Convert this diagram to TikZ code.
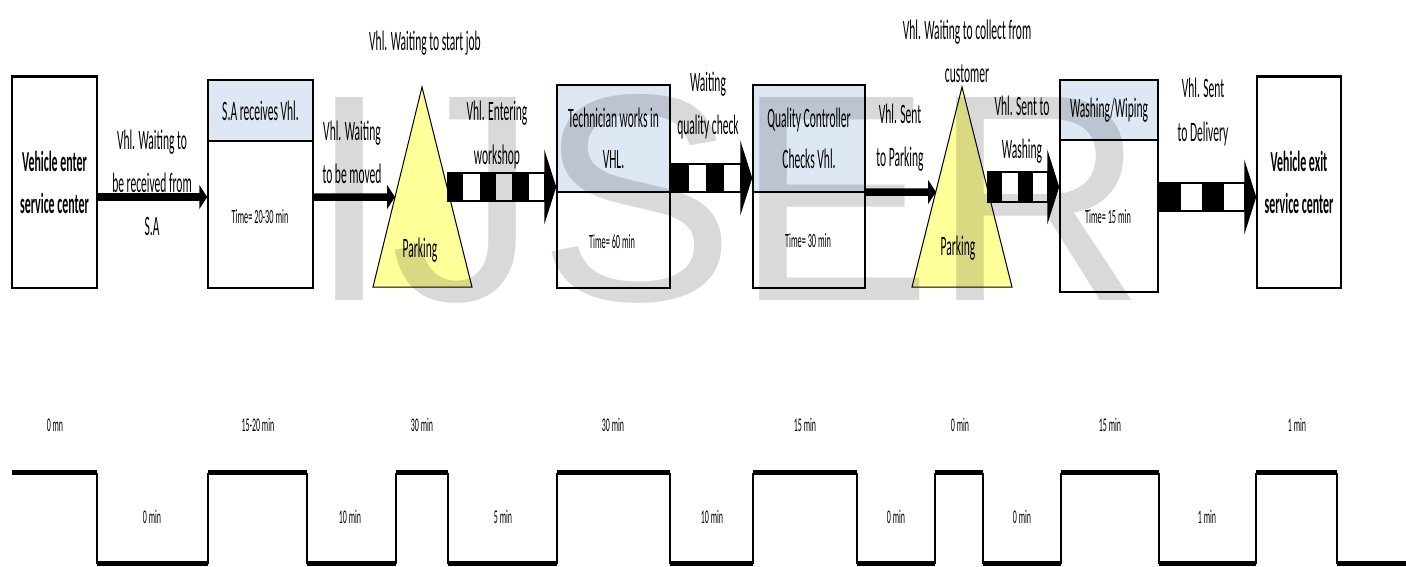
\documentclass[tikz,border=0pt]{standalone}
\usepackage{fontspec}
\setmainfont[FakeStretch=0.41]{Carlito}
\newfontfamily\markfont{Liberation Sans}
\usetikzlibrary{positioning,arrows.meta}
\definecolor{headblue}{RGB}{222,231,244}
\definecolor{parkyellow}{RGB}{255,255,153}

\begin{document}
\begin{tikzpicture} [
	x=0.2mm,y=-0.2mm,
	text centered,
	nbox/.style={
		rectangle,draw=black,line width=0.3mm,inner sep=0pt
	},
	nhead/.style={
		rectangle,draw=black,line width=0.3mm,fill=headblue,
		inner sep=1pt,align=center,font=\fontsize{16}{23}\selectfont
	},
	nend/.style={
		nbox,align=center,font=\bfseries\fontsize{16.5}{24}\selectfont
	},
	ntime/.style={font=\fontsize{11.5}{12}\selectfont,inner sep=1pt},
	nlabel/.style={align=center,font=\fontsize{16}{24.5}\selectfont,inner sep=1pt},
	nmin/.style={font=\fontsize{11}{12}\selectfont,inner sep=1pt},
	npark/.style={draw=black,line width=0.2mm,fill=parkyellow},
	nsolid/.style={line width=1.5mm,-{Triangle[length=1.6mm,width=4.8mm]}},
	nstripe/.style={line width=6mm,-{Triangle[length=2.4mm,width=15mm]}},
	nwhite/.style={white,line width=5.2mm,shorten >=2.4mm},
	nstep/.style={line width=0.4mm},
	nlevel/.style={line width=1mm}
]
\useasboundingbox (0,0) rectangle (1406,566);

% stages
\node [nend,minimum width=17mm,minimum height=42.2mm]	(enter) at (54.5,182.5)	{Vehicle enter\\service center};
\draw [line width=0.7mm] (enter.north west) -- (enter.north east);

\node [nbox,minimum width=21mm,minimum height=41.6mm]	(sa) at (260.5,184)	{};
\node [nhead,minimum width=21mm,minimum height=12.2mm,anchor=north]	(sahead) at (sa.north)	{S.A receives Vhl.};
\node [ntime]	(satime) at (260,217)	{Time= 20-30 min};

\node [nbox,minimum width=22.6mm,minimum height=40.6mm]	(tech) at (613.5,186.5)	{};
\node [nhead,minimum width=22.6mm,minimum height=21.4mm,anchor=north]	(techhead) at (tech.north)	{Technician works in\\VHL.};
\node [ntime]	(techtime) at (612,242)	{Time= 60 min};

\node [nbox,minimum width=22.4mm,minimum height=40.6mm]	(qc) at (809,186.5)	{};
\node [nhead,minimum width=22.4mm,minimum height=21.4mm,anchor=north]	(qchead) at (qc.north)	{Quality Controller\\Checks Vhl.};
\node [ntime]	(qctime) at (808,241)	{Time= 30 min};

\node [nbox,minimum width=19.6mm,minimum height=42.4mm]	(wash) at (1109,186)	{};
\node [nhead,minimum width=19.6mm,minimum height=12mm,anchor=north]	(washhead) at (wash.north)	{Washing/Wiping};
\node [ntime]	(washtime) at (1108,217)	{Time= 15 min};

\node [nend,minimum width=16.8mm,minimum height=42.2mm]	(exit) at (1299,182.5)	{Vehicle exit\\service center};
\draw [line width=0.7mm] (exit.north west) -- (exit.north east);

% parking
\draw [npark] (422,87) -- (472,287) -- (373,287) -- cycle;
\node [nlabel]	(park1) at (420,250)	{Parking};
\coordinate (p1in) at (395,197);
\coordinate (p1out) at (447,187);

\draw [npark] (962,87) -- (1012,287) -- (912,287) -- cycle;
\node [nlabel]	(park2) at (958,248)	{Parking};
\coordinate (p2in) at (936,192);
\coordinate (p2out) at (987,187);

% moves
\coordinate (a1) at ([yshift=-2.9mm]enter.east);
\draw [nsolid] (a1) -- (a1 -| sa.west);
\coordinate (a2) at ([yshift=-2.6mm]sa.east);
\draw [nsolid] (a2) -- (p1in);
\draw [nstripe] (p1out) -- (p1out -| tech.west);
\draw [nwhite,dash pattern=on 3.27mm off 3.27mm,dash phase=3.27mm] (p1out) -- (p1out -| tech.west);
\coordinate (a4) at ([yshift=1.7mm]tech.east);
\draw [nstripe] (a4) -- (a4 -| qc.west);
\draw [nwhite,dash pattern=on 3.55mm off 3.55mm,dash phase=3.55mm] (a4) -- (a4 -| qc.west);
\coordinate (a5) at ([yshift=-1.1mm]qc.east);
\draw [nsolid] (a5) -- (p2in);
\draw [nstripe,line width=6.4mm] (p2out) -- (p2out -| wash.west);
\draw [nwhite,line width=5.6mm,dash pattern=on 3.05mm off 3.05mm,dash phase=3.05mm] (p2out) -- (p2out -| wash.west);
\coordinate (a7) at ([yshift=-2.2mm]wash.east);
\draw [nstripe] (a7) -- (a7 -| exit.west);
\draw [nwhite,dash pattern=on 4.35mm off 4.35mm,dash phase=4.35mm] (a7) -- (a7 -| exit.west);

% move labels
\node [nlabel]	(l1) at (152,183)	{Vhl. Waiting to\\be received from\\S.A};
\node [nlabel]	(l2) at (352,152)	{Vhl. Waiting\\to be moved};
\node [nlabel]	(l3) at (425,43)	{Vhl. Waiting to start job};
\node [nlabel]	(l4) at (497,135)	{Vhl. Entering\\workshop};
\node [nlabel]	(l5) at (708,106)	{Waiting\\quality check};
\node [nlabel]	(l6) at (900,138)	{Vhl. Sent\\to Parking};
\node [nlabel]	(l7) at (967,51)	{Vhl. Waiting to collect from\\customer};
\node [nlabel]	(l8) at (1022,130)	{Vhl. Sent to\\Washing};
\node [nlabel]	(l9) at (1203,112)	{Vhl. Sent\\to Delivery};

% time line
\foreach \x in {97,208,307,396,448,557,670,753,857,935,983,1061,1159,1256,1337}
	\draw [nstep] (\x,472.5) -- (\x,563.5);
\foreach \a/\b in {12/97,208/307,396/448,557/670,753/857,935/983,1061/1159,1256/1337}
	\draw [nlevel] (\a,472.5) -- (\b,472.5);
\foreach \a/\b in {97/208,307/396,448/557,670/753,857/935,983/1061,1159/1256,1337/1406}
	\draw [nlevel] (\a,563.5) -- (\b,563.5);
\foreach \x/\t [count=\i] in {55/0 mn,258/15-20 min,422/30 min,613/30 min,805/15 min,960/0 min,1110/15 min,1297/1 min}
	\node [nmin] (up\i) at (\x,425) {\t};
\foreach \x/\t [count=\i] in {152/0 min,350/10 min,503/5 min,712/10 min,896/0 min,1022/0 min,1207/1 min}
	\node [nmin] (low\i) at (\x,517) {\t};

% watermark
\node [font=\markfont\fontsize{168}{168}\selectfont,text=black,text opacity=0.15,inner sep=0pt,anchor=base] (mark) at (727,300) {IJSER};
\end{tikzpicture}
\end{document}
